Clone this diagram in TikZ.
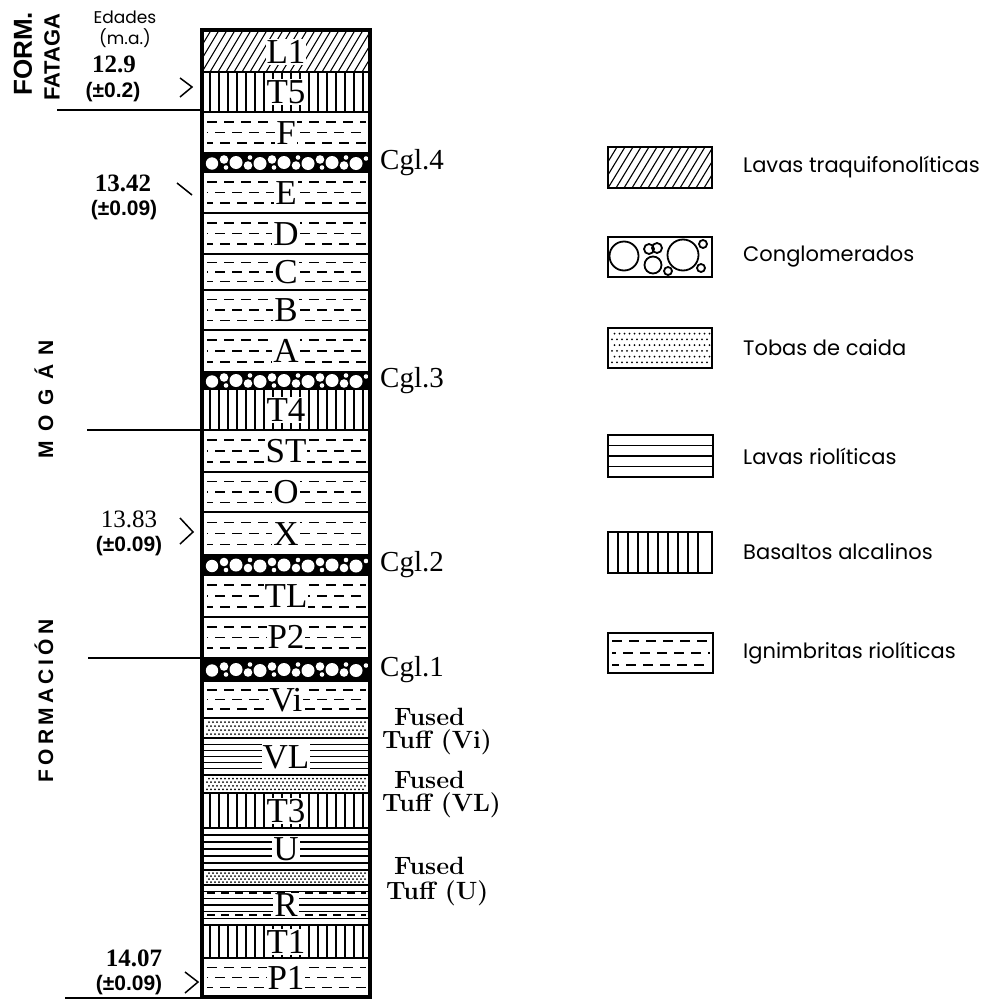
\documentclass[tikz,border=0pt]{standalone}
\usepackage{fontspec}
\newfontfamily\legfont{Poppins}
\newfontfamily\hsans{Liberation Sans}
\newfontfamily\tser{Liberation Serif}
\newfontfamily\spsans[LetterSpace=45]{Liberation Sans}
\newfontfamily\spsansb[LetterSpace=20]{Liberation Sans}
\tikzset{
 col/.style={line width=4pt},
 sep/.style={line width=1.3pt},
 ignd/.style={line width=1.5pt, dash pattern=on 10pt off 7pt},
 thinl/.style={line width=1.1pt},
 lbl/.style={fill=white, inner sep=1pt, font=\tser\fontsize{35}{35}\selectfont},
 rlbl/.style={anchor=west, inner sep=0pt, font=\tser\fontsize{29}{29}\selectfont},
 ftl/.style={anchor=west, inner sep=0pt, font=\bfseries\fontsize{25}{25}\selectfont},
 agel/.style={inner sep=0pt, font=\tser\bfseries\fontsize{25}{25}\selectfont},
 errl/.style={inner sep=0pt, font=\hsans\bfseries\fontsize{21}{21}\selectfont},
 legl/.style={anchor=west, inner sep=0pt, font=\legfont\fontsize{21}{21}\selectfont},
 legbox/.style={line width=2pt},
 chev/.style={line width=1.5pt},
 hline/.style={line width=1.8pt},
 rotl/.style={inner sep=0pt, rotate=90},
}
\newcommand\ignL[2]{\foreach \f/\ph in {0.24/0,0.5/9,0.76/4}{\draw[ignd, dash phase=\ph pt] (207,{#1+\f*(#2-#1)}) -- (366,{#1+\f*(#2-#1)});}}
\newcommand\basL[2]{\foreach \x in {210,219,...,364}{\draw[thinl] (\x,#1) -- (\x,#2);}}
\newcommand\lavL[2]{\foreach \i in {1,...,5}{\draw[thinl] (204,{#1+\i*(#2-#1)/6}) -- (368,{#1+\i*(#2-#1)/6});}}
\newcommand\hatL[2]{\begin{scope}\clip (204,#1) rectangle (368,#2);\foreach \x in {170,178,...,380}{\draw[thinl] (\x,#2) -- ({\x+0.6*(#2-#1)},#1);}\end{scope}}
\newcommand\cglL[2]{\fill (204,#1) rectangle (368,#2);
 \foreach \cx/\dy/\r in {212/1/6.2, 236/0/6.5, 260/1/6.5, 284/0/6.5, 308/1/6.5, 332/0/6.5, 356/1/6.5, 224/-3/4.3, 248/3/4.3, 272/-3/4.3, 296/3/4.3, 320/-3/4.3, 344/3/4.3, 366/-4/2.3, 226/5/2.3, 250/-5/2.3, 274/5/2.3, 298/-5/2.3, 322/5/2.3, 346/-5/2.3}{\fill[white] (\cx,{(#1+#2)/2+\dy}) circle[radius=\r pt];}}
\newcommand\tufL[2]{\foreach \i in {1,...,4}{\foreach \x in {207,211,...,365}{\fill ({\x+mod(\i,2)*2},{#1+\i*(#2-#1)/5}) circle[radius=1pt];}}}
\begin{document}
\begin{tikzpicture}[x=1pt,y=-1pt]
\useasboundingbox (0,0) rectangle (998,1001);
% ---- patterns of the column
\hatL{30}{72}
\basL{72}{112}
\ignL{112}{153}
\cglL{153}{172}
\ignL{172}{213}
\ignL{213}{254}
\ignL{254}{290}
\ignL{290}{330}
\ignL{330}{372}
\cglL{372}{389}
\basL{389}{430}
\ignL{430}{472}
\ignL{472}{512}
\ignL{512}{555}
\cglL{555}{575}
\ignL{575}{617}
\ignL{617}{658}
\cglL{658}{681}
\ignL{681}{718}
\tufL{718}{738}
\lavL{738}{775}
\tufL{775}{793}
\basL{793}{828}
\lavL{828}{870}
\tufL{870}{885}
\lavL{885}{925}
\foreach \yy in {893,915}{\draw[line width=2.4pt, dash pattern=on 8pt off 6pt] (207,\yy) -- (366,\yy);}
\basL{925}{958}
\ignL{958}{997}
% ---- boundaries
\foreach \yy in {72,112,153,172,213,254,290,330,372,389,430,472,512,555,575,617,658,681,718,738,775,793,828,870,885,925,958}{\draw[sep] (202,\yy) -- (370,\yy);}
\draw[col] (202,30) rectangle (370,997);
% ---- layer labels
\node[lbl] (nL1) at (286,52) {L1};
\node[lbl] (nT5) at (286,92) {T5};
\node[lbl] (nF) at (286,133) {F};
\node[lbl] (nE) at (286,193) {E};
\node[lbl] (nD) at (286,234) {D};
\node[lbl] (nC) at (286,272) {C};
\node[lbl] (nB) at (286,310) {B};
\node[lbl] (nA) at (286,351) {A};
\node[lbl] (nT4) at (286,410) {T4};
\node[lbl] (nST) at (286,451) {ST};
\node[lbl] (nO) at (286,492) {O};
\node[lbl] (nX) at (286,534) {X};
\node[lbl] (nTL) at (286,596) {TL};
\node[lbl] (nP2) at (286,637) {P2};
\node[lbl] (nVi) at (286,700) {Vi};
\node[lbl] (nVL) at (286,757) {VL};
\node[lbl] (nT3) at (286,811) {T3};
\node[lbl] (nU) at (286,849) {U};
\node[lbl] (nR) at (286,905) {R};
\node[lbl] (nT1) at (286,942) {T1};
\node[lbl] (nP1) at (286,978) {P1};
% ---- right labels
\node[rlbl] (c4) at (380,163) {Cgl.4};
\node[rlbl] (c3) at (380,381) {Cgl.3};
\node[rlbl] (c2) at (380,565) {Cgl.2};
\node[rlbl] (c1) at (380,670) {Cgl.1};
\node[ftl] (f1a) at (394,717) {Fused};
\node[ftl] (f1b) at (382,742) {Tuff (Vi)};
\node[ftl] (f2a) at (394,780) {Fused};
\node[ftl] (f2b) at (382,805) {Tuff (VL)};
\node[ftl] (f3a) at (394,866) {Fused};
\node[ftl] (f3b) at (386,893) {Tuff (U)};
% ---- left side
\node[inner sep=0pt, font=\legfont\fontsize{17}{17}\selectfont] (ed1) at (125,17) {Edades};
\node[inner sep=0pt, font=\legfont\fontsize{17}{17}\selectfont] (ed2) at (125,38) {(m.a.)};
\node[agel] (a1) at (114,64) {12.9};
\node[errl] (e1) at (113,92) {(±0.2)};
\node[agel] (a2) at (123,183) {13.42};
\node[errl] (e2) at (124,210) {(±0.09)};
\node[agel, font=\tser\fontsize{25}{25}\selectfont] (a3) at (129,519) {13.83};
\node[errl] (e3) at (129,546) {(±0.09)};
\node[agel] (a4) at (134,958) {14.07};
\node[errl] (e4) at (129,985) {(±0.09)};
\draw[chev] (180,78) -- (192,87) -- (180,97);
\draw[chev] (177,183) -- (192,195);
\draw[chev] (180,518) -- (193,532) -- (180,544);
\draw[chev] (185,972) -- (198,982) -- (185,993);
\draw[hline] (57,110) -- (202,110);
\draw[hline] (87,430) -- (202,430);
\draw[hline] (88,658) -- (202,658);
\draw[hline] (65,998) -- (202,998);
\node[rotl, font=\hsans\bfseries\fontsize{26}{26}\selectfont] (fm) at (23,54) {FORM.};
\node[rotl, font=\hsans\bfseries\fontsize{22}{22}\selectfont] (ft) at (52,57) {FATAGA};
\node[rotl, font=\spsans\bfseries\fontsize{21}{21}\selectfont] (mg) at (44,399) {MOGÁN};
\node[rotl, font=\spsansb\bfseries\fontsize{21}{21}\selectfont] (fo) at (44,701) {FORMACIÓN};
% ---- legend
\begin{scope}\clip (608,147) rectangle (712,188);
\foreach \x in {560,568,...,720}{\draw[thinl] (\x,188) -- (\x+25,147);}
\end{scope}
\draw[legbox] (608,147) rectangle (712,188);
\draw[legbox] (608,237) rectangle (712,277);
\foreach \cx/\cy/\r in {624/256/14.5, 649/249/5, 657/248/5, 653/265/8.5, 683/255/15.5, 703/244/4, 668/271/4, 701/268/4}{\draw[line width=1.8pt] (\cx,\cy) circle[radius=\r pt];}
\foreach \i in {1,...,6}{\foreach \x in {612,617,...,708}{\fill ({\x+mod(\i,2)*2.5},{328+\i*40/7}) circle[radius=1pt];}}
\draw[legbox] (608,328) rectangle (712,368);
\draw[legbox] (608,435) rectangle (713,477);
\foreach \yy in {445.5,456,466.5}{\draw[thinl] (608,\yy) -- (713,\yy);}
\draw[legbox] (608,532) rectangle (712,573);
\foreach \x in {618,628,...,704}{\draw[thinl] (\x,532) -- (\x,573);}
\draw[legbox] (608,633) rectangle (713,673);
\foreach \yy/\ph in {641/0,653/6,665/3}{\draw[ignd, dash phase=\ph pt] (612,\yy) -- (710,\yy);}
\node[legl] (l1) at (743,167) {Lavas traquifonolíticas};
\node[legl] (l2) at (743,257) {Conglomerados};
\node[legl] (l3) at (743,348) {Tobas de caida};
\node[legl] (l4) at (743,456) {Lavas riolíticas};
\node[legl] (l5) at (743,552) {Basaltos alcalinos};
\node[legl] (l6) at (743,653) {Ignimbritas riolíticas};
\end{tikzpicture}
\end{document}
